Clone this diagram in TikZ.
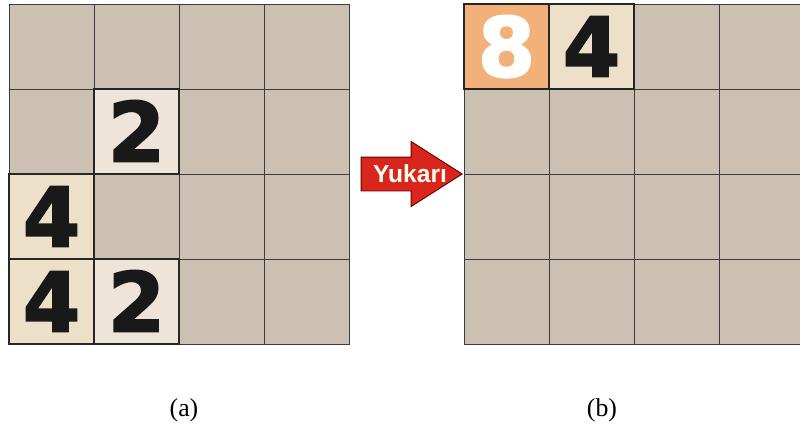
\documentclass[tikz,border=0pt]{standalone}
\usepackage{fontspec}
\usepackage{tikz}
\usetikzlibrary{shapes.arrows, positioning}
\setmainfont{Liberation Serif}
\newfontfamily\tilefont[BoldFeatures={FakeBold=2.5}]{DejaVu Sans}
\newfontfamily\arrowfont{Liberation Sans}
\definecolor{cellgray}{RGB}{204,192,179}
\definecolor{tiletwo}{RGB}{238,228,218}
\definecolor{tilefour}{RGB}{237,224,200}
\definecolor{tileeight}{RGB}{242,177,121}
\definecolor{arrowred}{RGB}{218,37,29}
\definecolor{gridline}{RGB}{60,60,60}

\begin{document}
\begin{tikzpicture}[x=0.3mm, y=-0.3mm,
    cell/.style={draw=gridline, line width=0.6pt, fill=cellgray, minimum size=25.5mm, inner sep=0pt, outer sep=0pt},
    tile/.style={cell, draw=black!85, line width=1.1pt, text=black!90,
        font=\tilefont\bfseries\fontsize{70}{70}\selectfont, text height=51pt, text depth=0pt},
    movearrow/.style={single arrow, draw=black!60!red, line width=0.8pt, fill=arrowred,
        inner sep=0pt, text width=0pt, text height=9.9mm, text depth=0pt, minimum height=30.3mm,
        single arrow head extend=4.65mm, single arrow tip angle=65, anchor=tip},
    arrowlabel/.style={text=white!95!yellow, font=\arrowfont\bfseries\fontsize{21}{21}\selectfont},
    caption/.style={font=\fontsize{22}{24}\selectfont}
]
\useasboundingbox (0,0) rectangle (800,434);

% empty boards
\foreach \i in {0,...,3}
  \foreach \j in {0,...,3} {
    \node[cell] (a-\i-\j) at ({51.5+85*\i},{46.5+85*\j}) {};
    \node[cell] (b-\i-\j) at ({506.5+85*\i},{46.5+85*\j}) {};
  }

% tiles before the move
\node[tile, fill=tiletwo] (atwoup) at (a-1-1) {2};
\node[tile, fill=tilefour] (afourmid) at (a-0-2) {4};
\node[tile, fill=tilefour] (afourlow) at (a-0-3) {4};
\node[tile, fill=tiletwo] (atwolow) at (a-1-3) {2};

% tiles after the move
\node[tile, fill=tileeight, text=white] (beight) at (b-0-0) {8};
\node[tile, fill=tilefour] (bfour) at (b-1-0) {4};

\node[movearrow] (yukari) at (463,174) {};
\node[arrowlabel] (yukaritext) at ([xshift=-15.9mm]yukari.tip) {Yukarı};

\node[caption] (capa) at (184,410) {(a)};
\node[caption] (capb) at (602,410) {(b)};
\end{tikzpicture}
\end{document}
